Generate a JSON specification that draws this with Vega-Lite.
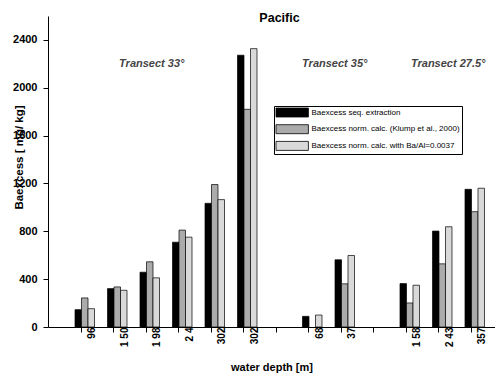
{
  "$schema": "https://vega.github.io/schema/vega-lite/v6.json",
  "width": 447,
  "height": 311,
  "autosize": {"type": "none"},
  "padding": {"left": 48, "top": 16, "right": 0, "bottom": 47},
  "background": "white",
  "config": {"view": {"stroke": null}, "font": "Liberation Sans"},
  "title": {"text": "Pacific", "font": "Liberation Sans", "fontSize": 12.5, "fontWeight": "bold", "color": "black", "anchor": "middle", "frame": "group", "dx": 8, "offset": -18, "baseline": "alphabetic"},
  "layer": [
    {
      "data": {"values": [
        {"depth": "96", "series": "Baexcess seq. extraction", "value": 145},
        {"depth": "96", "series": "Baexcess norm. calc. (Klump et al., 2000)", "value": 243},
        {"depth": "96", "series": "Baexcess norm. calc. with Ba/Al=0.0037", "value": 153},
        {"depth": "1 50", "series": "Baexcess seq. extraction", "value": 321},
        {"depth": "1 50", "series": "Baexcess norm. calc. (Klump et al., 2000)", "value": 335},
        {"depth": "1 50", "series": "Baexcess norm. calc. with Ba/Al=0.0037", "value": 307},
        {"depth": "1 98", "series": "Baexcess seq. extraction", "value": 458},
        {"depth": "1 98", "series": "Baexcess norm. calc. (Klump et al., 2000)", "value": 545},
        {"depth": "1 98", "series": "Baexcess norm. calc. with Ba/Al=0.0037", "value": 411},
        {"depth": "2 4", "series": "Baexcess seq. extraction", "value": 709},
        {"depth": "2 4", "series": "Baexcess norm. calc. (Klump et al., 2000)", "value": 810},
        {"depth": "2 4", "series": "Baexcess norm. calc. with Ba/Al=0.0037", "value": 751},
        {"depth": "302", "series": "Baexcess seq. extraction", "value": 1034},
        {"depth": "302", "series": "Baexcess norm. calc. (Klump et al., 2000)", "value": 1191},
        {"depth": "302", "series": "Baexcess norm. calc. with Ba/Al=0.0037", "value": 1065},
        {"depth": "302 ", "series": "Baexcess seq. extraction", "value": 2272},
        {"depth": "302 ", "series": "Baexcess norm. calc. (Klump et al., 2000)", "value": 1820},
        {"depth": "302 ", "series": "Baexcess norm. calc. with Ba/Al=0.0037", "value": 2327},
        {"depth": "68", "series": "Baexcess seq. extraction", "value": 89},
        {"depth": "68", "series": "Baexcess norm. calc. with Ba/Al=0.0037", "value": 100},
        {"depth": "37", "series": "Baexcess seq. extraction", "value": 562},
        {"depth": "37", "series": "Baexcess norm. calc. (Klump et al., 2000)", "value": 361},
        {"depth": "37", "series": "Baexcess norm. calc. with Ba/Al=0.0037", "value": 598},
        {"depth": "1 58", "series": "Baexcess seq. extraction", "value": 363},
        {"depth": "1 58", "series": "Baexcess norm. calc. (Klump et al., 2000)", "value": 201},
        {"depth": "1 58", "series": "Baexcess norm. calc. with Ba/Al=0.0037", "value": 349},
        {"depth": "2 43", "series": "Baexcess seq. extraction", "value": 802},
        {"depth": "2 43", "series": "Baexcess norm. calc. (Klump et al., 2000)", "value": 528},
        {"depth": "2 43", "series": "Baexcess norm. calc. with Ba/Al=0.0037", "value": 838},
        {"depth": "357", "series": "Baexcess seq. extraction", "value": 1151},
        {"depth": "357", "series": "Baexcess norm. calc. (Klump et al., 2000)", "value": 964},
        {"depth": "357", "series": "Baexcess norm. calc. with Ba/Al=0.0037", "value": 1160}
      ]},
      "mark": {"type": "bar", "stroke": "black", "strokeWidth": 0.7},
      "encoding": {
        "x": {
          "field": "depth", "type": "nominal",
          "scale": {"domain": ["96", "1 50", "1 98", "2 4", "302", "302 ", " ", "68", "37", "  ", "1 58", "2 43", "357"], "paddingInner": 0.4, "paddingOuter": 0.577, "align": 0.72},
          "axis": {
            "title": "water depth [m]", "titleFont": "Liberation Sans", "titleFontSize": 11, "titleFontWeight": "bold", "titleColor": "black", "titleY": 43, "titleBaseline": "alphabetic",
            "labelAngle": -90, "labelFont": "Liberation Sans", "labelFontSize": 10, "labelFontWeight": "bold", "labelColor": "black", "labelPadding": -5, "labelOffset": 11, "labelOverlap": false,
            "tickOffset": -4, "tickSize": 5, "tickColor": "black", "domainColor": "black", "labelExpr": "trim(datum.label)", "grid": false
          }
        },
        "xOffset": {"field": "series", "type": "nominal", "scale": {"domain": ["Baexcess seq. extraction", "Baexcess norm. calc. (Klump et al., 2000)", "Baexcess norm. calc. with Ba/Al=0.0037"], "paddingInner": 0, "paddingOuter": 0}},
        "y": {
          "field": "value", "type": "quantitative",
          "scale": {"domain": [0, 2600], "nice": false},
          "axis": {
            "title": "Baexcess [ mg/ kg]", "titleFont": "Liberation Sans", "titleFontSize": 11.5, "titleFontWeight": "bold", "titleColor": "black", "titleX": -26, "titleY": 141, "titleBaseline": "alphabetic", "titleAlign": "center",
            "values": [0, 100, 200, 300, 400, 500, 600, 700, 800, 900, 1000, 1100, 1200, 1300, 1400, 1500, 1600, 1700, 1800, 1900, 2000, 2100, 2200, 2300, 2400, 2500, 2600],
            "format": "d", "labelExpr": "datum.value % 400 == 0 ? datum.label : ''",
            "labelFont": "Liberation Sans", "labelFontSize": 11, "labelFontWeight": "bold", "labelColor": "black", "labelPadding": 6,
            "tickSize": 5, "tickColor": "black", "domainColor": "black", "grid": false
          }
        },
        "color": {
          "field": "series", "type": "nominal",
          "scale": {"domain": ["Baexcess seq. extraction", "Baexcess norm. calc. (Klump et al., 2000)", "Baexcess norm. calc. with Ba/Al=0.0037"], "range": ["#000000", "#ababab", "#d9d9d9"]},
          "legend": {
            "title": null, "orient": "none", "legendX": 226, "legendY": 90, "direction": "vertical",
            "strokeColor": "black", "fillColor": "white", "padding": 1.5, "rowPadding": 2.7,
            "symbolType": "M-1,-1H6.2V1H-1Z", "symbolSize": 81, "symbolStrokeColor": "black", "symbolStrokeWidth": 0.8, "symbolOpacity": 1,
            "labelFont": "Liberation Sans", "labelFontSize": 8, "labelColor": "black", "labelOffset": 26, "labelLimit": 300
          }
        }
      }
    },
    {
      "data": {"values": [{"label": "Transect 33°", "depth": "1 98", "value": 2172}]},
      "mark": {"type": "text", "font": "Liberation Sans", "fontSize": 11, "fontStyle": "italic", "fontWeight": "bold", "color": "#444444", "baseline": "alphabetic", "align": "center", "dx": 2},
      "encoding": {"x": {"field": "depth", "type": "nominal"}, "y": {"field": "value", "type": "quantitative"}, "text": {"field": "label"}}
    },
    {
      "data": {"values": [{"label": "Transect 35°", "depth": "37", "value": 2172}]},
      "mark": {"type": "text", "font": "Liberation Sans", "fontSize": 11, "fontStyle": "italic", "fontWeight": "bold", "color": "#444444", "baseline": "alphabetic", "align": "center", "dx": -10},
      "encoding": {"x": {"field": "depth", "type": "nominal"}, "y": {"field": "value", "type": "quantitative"}, "text": {"field": "label"}}
    },
    {
      "data": {"values": [{"label": "Transect 27.5°", "depth": "2 43", "value": 2172}]},
      "mark": {"type": "text", "font": "Liberation Sans", "fontSize": 11, "fontStyle": "italic", "fontWeight": "bold", "color": "#444444", "baseline": "alphabetic", "align": "center", "dx": 6},
      "encoding": {"x": {"field": "depth", "type": "nominal"}, "y": {"field": "value", "type": "quantitative"}, "text": {"field": "label"}}
    }
  ]
}
